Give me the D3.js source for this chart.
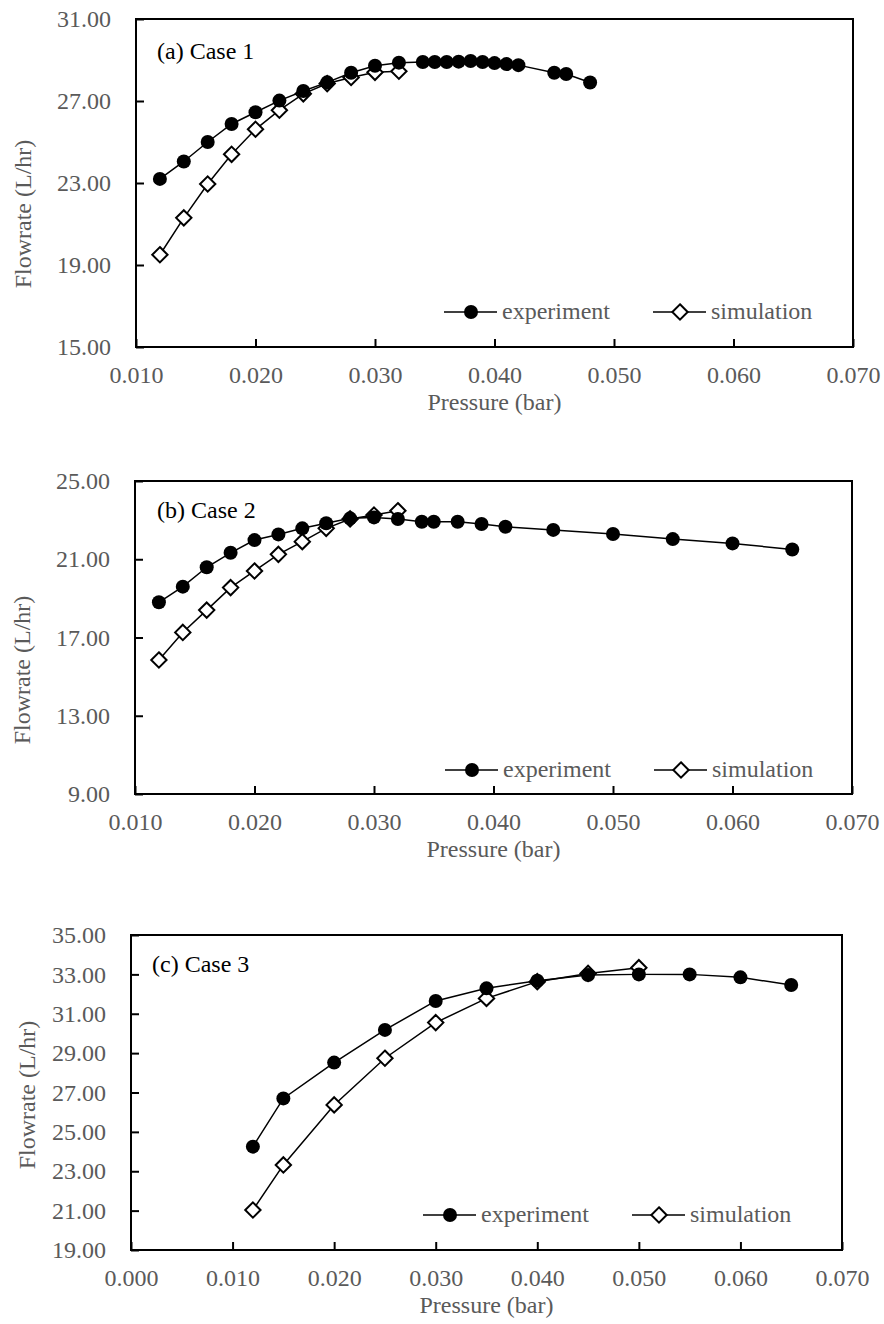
<!DOCTYPE html>
<html lang="en">
<head>
  <meta charset="UTF-8" />
  <title>Flowrate vs Pressure</title>
  <script src="https://cdn.jsdelivr.net/npm/d3@7"></script>
  <style>
    body { margin: 0; background: #fff; }
    svg text { font-family: "Liberation Serif", "Times New Roman", serif; }
  </style>
</head>
<body>
<div id="chart"></div>
<script>
// case 1
const expP1 = [0.012, 0.014, 0.016, 0.018, 0.020, 0.022, 0.024, 0.026, 0.028, 0.030, 0.032,
               0.034, 0.035, 0.036, 0.037, 0.038, 0.039, 0.040, 0.041, 0.042, 0.045, 0.046, 0.048];
const expQ1 = [23.2, 24.05, 25.0, 25.88, 26.45, 27.02, 27.49, 27.91, 28.38, 28.72, 28.87,
               28.9, 28.9, 28.9, 28.92, 28.95, 28.9, 28.85, 28.8, 28.75, 28.38, 28.32, 27.9];
const simP1 = [0.012, 0.014, 0.016, 0.018, 0.020, 0.022, 0.024, 0.026, 0.028, 0.030, 0.032];
const simQ1 = [19.5, 21.3, 22.95, 24.4, 25.62, 26.55, 27.35, 27.85, 28.15, 28.4, 28.45];

// case 2
const expP2 = [0.012, 0.014, 0.016, 0.018, 0.020, 0.022, 0.024, 0.026, 0.028, 0.030, 0.032,
               0.034, 0.035, 0.037, 0.039, 0.041, 0.045, 0.050, 0.055, 0.060, 0.065];
const expQ2 = [18.8, 19.6, 20.59, 21.33, 21.98, 22.27, 22.58, 22.84, 23.09, 23.14, 23.06,
               22.92, 22.92, 22.92, 22.8, 22.66, 22.5, 22.29, 22.03, 21.81, 21.5];
const simP2 = [0.012, 0.014, 0.016, 0.018, 0.020, 0.022, 0.024, 0.026, 0.028, 0.030, 0.032];
const simQ2 = [15.85, 17.26, 18.4, 19.55, 20.4, 21.25, 21.9, 22.58, 23.06, 23.26, 23.48];

// case 3
const expP3 = [0.012, 0.015, 0.020, 0.025, 0.030, 0.035, 0.040, 0.045, 0.050, 0.055, 0.060, 0.065];
const expQ3 = [24.25, 26.7, 28.52, 30.18, 31.65, 32.29, 32.68, 32.97, 33.0, 33.0, 32.85, 32.46];
const simP3 = [0.012, 0.015, 0.020, 0.025, 0.030, 0.035, 0.040, 0.045, 0.050];
const simQ3 = [21.03, 23.32, 26.37, 28.74, 30.55, 31.78, 32.63, 33.05, 33.34];

const xTicksAB = [0.010, 0.020, 0.030, 0.040, 0.050, 0.060, 0.070];
const xTicksC = [0.000, 0.010, 0.020, 0.030, 0.040, 0.050, 0.060, 0.070];
const yTicks1 = [15, 19, 23, 27, 31];
const yTicks2 = [9, 13, 17, 21, 25];
const yTicks3 = [19, 21, 23, 25, 27, 29, 31, 33, 35];

const caseLabels = ["(a) Case 1", "(b) Case 2", "(c) Case 3"];
const seriesNames = ["experiment", "simulation"];

const W = 884, H = 1324;
const grey = "#5a5a5a";
const fs = 24;

const svg = d3.select("#chart").append("svg")
  .attr("width", W).attr("height", H);

const panels = [
  { box: [136, 853, 19, 347], xd: [0.010, 0.070], yd: [15, 31], xt: xTicksAB, yt: yTicks1,
    exp: [expP1, expQ1], sim: [simP1, simQ1], label: caseLabels[0],
    lab: [157, 59], ytx: 23, yty: 214, legY: 312, legX: [444, 653] },
  { box: [135, 852, 481, 794], xd: [0.010, 0.070], yd: [9, 25], xt: xTicksAB, yt: yTicks2,
    exp: [expP2, expQ2], sim: [simP2, simQ2], label: caseLabels[1],
    lab: [157, 518], ytx: 22, yty: 670, legY: 770, legX: [445, 654] },
  { box: [131, 842, 935, 1250], xd: [0.000, 0.070], yd: [19, 35], xt: xTicksC, yt: yTicks3,
    exp: [expP3, expQ3], sim: [simP3, simQ3], label: caseLabels[2],
    lab: [152, 972], ytx: 27, yty: 1095, legY: 1215, legX: [423, 632] }
];

const diamond = d3.symbol().type(d3.symbolDiamond2).size(150);

function drawMarker(g, kind, cx, cy) {
  if (kind === 0) {
    g.append("circle").attr("cx", cx).attr("cy", cy).attr("r", 7).attr("fill", "#000");
  } else {
    g.append("path").attr("d", diamond()).attr("transform", `translate(${cx},${cy})`)
      .attr("fill", "#fff").attr("stroke", "#000").attr("stroke-width", 2);
  }
}

panels.forEach(p => {
  const [l, r, t, b] = p.box;
  const x = d3.scaleLinear().domain(p.xd).range([l, r]);
  const y = d3.scaleLinear().domain(p.yd).range([b, t]);
  const g = svg.append("g");

  // x axis, ticks pointing inward
  const xa = g.append("g").attr("transform", `translate(0,${b})`)
    .call(d3.axisBottom(x).tickValues(p.xt).tickFormat(d3.format(".3f"))
      .tickSizeInner(-8).tickSizeOuter(0).tickPadding(19));
  xa.select(".domain").remove();
  xa.selectAll("line").attr("stroke", "#000").attr("stroke-width", 2);
  xa.selectAll("text").attr("fill", grey).style("font-size", fs + "px");

  // y axis
  const ya = g.append("g").attr("transform", `translate(${l},0)`)
    .call(d3.axisLeft(y).tickValues(p.yt).tickFormat(d3.format(".2f"))
      .tickSizeInner(-8).tickSizeOuter(0).tickPadding(25));
  ya.select(".domain").remove();
  ya.selectAll("line").attr("stroke", "#000").attr("stroke-width", 2);
  ya.selectAll("text").attr("fill", grey).style("font-size", fs + "px");

  // frame
  g.append("rect").attr("x", l).attr("y", t).attr("width", r - l).attr("height", b - t)
    .attr("fill", "none").attr("stroke", "#000").attr("stroke-width", 2);

  // titles
  g.append("text").attr("x", (l + r) / 2).attr("y", b + 63)
    .attr("text-anchor", "middle").attr("fill", grey).style("font-size", fs + "px")
    .text("Pressure (bar)");
  g.append("text").attr("transform", `translate(${p.ytx},${p.yty}) rotate(-90)`)
    .attr("text-anchor", "middle").attr("dy", "0.35em").attr("fill", grey)
    .style("font-size", fs + "px").text("Flowrate (L/hr)");
  g.append("text").attr("x", p.lab[0]).attr("y", p.lab[1])
    .attr("fill", "#000").style("font-size", fs + "px").text(p.label);

  // series
  const line = d3.line().x(d => x(d[0])).y(d => y(d[1]));
  [p.sim, p.exp].forEach((s, i) => {
    const kind = i === 0 ? 1 : 0;
    const pts = s[0].map((v, k) => [v, s[1][k]]);
    g.append("path").datum(pts).attr("d", line)
      .attr("fill", "none").attr("stroke", "#000").attr("stroke-width", 1.5);
    pts.forEach(d => drawMarker(g, kind, x(d[0]), y(d[1])));
  });

  // legend
  seriesNames.forEach((name, i) => {
    const lx = p.legX[i];
    g.append("line").attr("x1", lx).attr("x2", lx + 53)
      .attr("y1", p.legY).attr("y2", p.legY)
      .attr("stroke", "#000").attr("stroke-width", 1.5);
    drawMarker(g, i, lx + 27, p.legY);
    g.append("text").attr("x", lx + 58).attr("y", p.legY + 7)
      .attr("fill", grey).style("font-size", fs + "px").text(name);
  });
});
</script>
</body>
</html>
